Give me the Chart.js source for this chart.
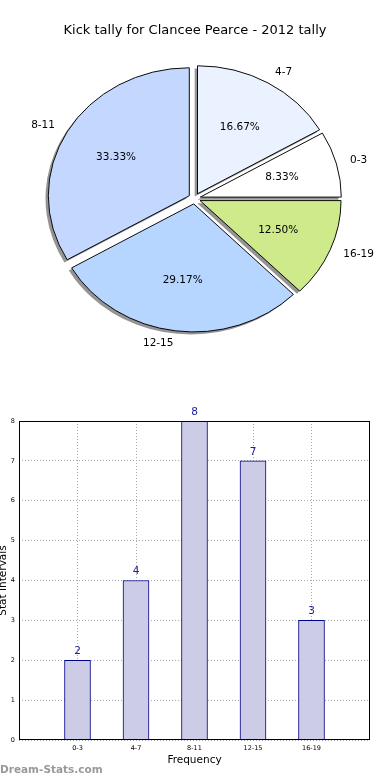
<!DOCTYPE html>
<html>
<head>
<meta charset="utf-8">
<script src="https://cdn.jsdelivr.net/npm/chart.js@4.4.1/dist/chart.umd.min.js"></script>
<style>
  html, body { margin: 0; padding: 0; background: #fff; }
  body { width: 390px; height: 780px; position: relative; overflow: hidden; font-family: "DejaVu Sans", sans-serif; }
  #title { position: absolute; left: 0; top: 21px; width: 390px; text-align: center; font-size: 13px; line-height: 18px; color: #000; }
  #pieBox { position: absolute; left: 0; top: 0; width: 390px; height: 400px; }
  #barBox { position: absolute; left: -6px; top: 400px; width: 396px; height: 380px; }
  #mark { position: absolute; left: 0; top: 763px; font-size: 10.5px; font-weight: bold; color: #999; }
</style>
</head>
<body>
<div id="pieBox"><canvas id="pie" width="390" height="400"></canvas></div>
<div id="title">Kick tally for Clancee Pearce - 2012 tally</div>
<div id="barBox"><canvas id="bar" width="396" height="380"></canvas></div>
<div id="mark">Dream-Stats.com</div>
<script>
// data
const categories = ['0-3', '4-7', '8-11', '12-15', '16-19'];
const counts = [2, 4, 8, 7, 3];
const yMin = 0, yMax = 8;

// looks
const sliceColors = ['#ffffff', '#eaf1ff', '#c4d8ff', '#b6d5ff', '#cfea8b'];
const FONT = '"DejaVu Sans", sans-serif';
const R = 141;            // horizontal radius of the pie
const K = 128 / 141;      // pie is a bit squashed vertically
const EXPLODE = 6;

const total = counts.reduce((a, b) => a + b, 0);

// chart.js goes clockwise, matplotlib went counter-clockwise from east -> reverse
const pieLabels = categories.slice().reverse();
const pieValues = counts.slice().reverse();
const pieColors = sliceColors.slice().reverse();

const center = chart => {
  const a = chart.chartArea;
  return [(a.left + a.right) / 2, (a.top + a.bottom) / 2];
};

const piePlugin = {
  id: 'mplPie',
  afterDatasetsUpdate(chart) {
    const [cx, cy] = center(chart);
    chart.getDatasetMeta(0).data.forEach(arc => {
      const mid = (arc.startAngle + arc.endAngle) / 2;
      arc.x = cx + EXPLODE * Math.cos(mid);
      arc.y = cy + EXPLODE * Math.sin(mid);
    });
  },
  beforeDatasetsDraw(chart) {
    const ctx = chart.ctx;
    const [cx, cy] = center(chart);
    ctx.save();
    ctx.translate(cx, cy);
    ctx.scale(1, K);
    ctx.translate(-cx, -cy);
    // shadows under all wedges
    ctx.save();
    ctx.translate(-2.8, 2.6 / K);
    ctx.fillStyle = 'rgba(60,60,60,0.55)';
    chart.getDatasetMeta(0).data.forEach(arc => {
      ctx.beginPath();
      ctx.moveTo(arc.x, arc.y);
      ctx.arc(arc.x, arc.y, arc.outerRadius, arc.startAngle, arc.endAngle);
      ctx.closePath();
      ctx.fill();
    });
    ctx.restore();
  },
  afterDatasetsDraw(chart) {
    const ctx = chart.ctx;
    ctx.restore();
    const [cx, cy] = center(chart);
    ctx.save();
    ctx.font = '10.5px ' + FONT;
    ctx.fillStyle = '#000';
    ctx.textBaseline = 'middle';
    chart.getDatasetMeta(0).data.forEach((arc, i) => {
      const mid = (arc.startAngle + arc.endAngle) / 2;
      const c = Math.cos(mid), s = Math.sin(mid);
      // category label
      let d = EXPLODE + 1.1 * R;
      ctx.textAlign = c > 0 ? 'left' : 'right';
      ctx.fillText(pieLabels[i], cx + d * c, cy + K * d * s);
      // percent
      d = EXPLODE + 0.6 * R;
      ctx.textAlign = 'center';
      ctx.fillText((pieValues[i] / total * 100).toFixed(2) + '%', cx + d * c, cy + K * d * s);
    });
    ctx.restore();
  }
};

new Chart(document.getElementById('pie'), {
  type: 'pie',
  data: {
    labels: pieLabels,
    datasets: [{
      data: pieValues,
      backgroundColor: pieColors,
      borderColor: '#000',
      borderWidth: 1,
      radius: R
    }]
  },
  options: {
    responsive: false,
    animation: false,
    events: [],
    rotation: 90,
    layout: { padding: { left: 0, right: 1, top: 0, bottom: 3 } },
    plugins: { legend: { display: false }, tooltip: { enabled: false } }
  },
  plugins: [piePlugin]
});

// bar chart
const barPlugin = {
  id: 'barExtras',
  afterDatasetsDraw(chart) {
    const ctx = chart.ctx;
    ctx.save();
    ctx.font = '10.5px ' + FONT;
    ctx.fillStyle = '#1c1c96';
    ctx.textAlign = 'center';
    ctx.textBaseline = 'middle';
    chart.getDatasetMeta(0).data.forEach((bar, i) => {
      ctx.fillText(String(counts[i]), bar.x, bar.y - 9);
    });
    ctx.restore();
  },
  afterDraw(chart) {
    const a = chart.chartArea, ctx = chart.ctx;
    ctx.save();
    ctx.strokeStyle = '#000';
    ctx.lineWidth = 1;
    ctx.strokeRect(Math.round(a.left) + 0.5, Math.round(a.top) + 0.5,
      Math.round(a.right - a.left) - 1, Math.round(a.bottom - a.top) - 1);
    ctx.restore();
  }
};

new Chart(document.getElementById('bar'), {
  type: 'bar',
  data: {
    datasets: [{
      data: counts.map((v, i) => ({ x: i, y: v })),
      backgroundColor: '#ccccE6',
      borderColor: '#00008b',
      borderWidth: 1,
      borderSkipped: 'bottom',
      barThickness: 26
    }]
  },
  options: {
    responsive: false,
    animation: false,
    events: [],
    layout: { padding: { left: 0, right: 20, top: 21, bottom: 10 } },
    plugins: { legend: { display: false }, tooltip: { enabled: false } },
    scales: {
      x: {
        type: 'linear',
        min: -1,
        max: categories.length,
        offset: false,
        z: 1,
        afterFit: s => { s.height = 30; },
        ticks: {
          stepSize: 1,
          autoSkip: false,
          maxRotation: 0,
          padding: 4,
          color: '#000',
          font: { family: FONT, size: 6.5 },
          callback: v => categories[v] !== undefined ? categories[v] : ''
        },
        grid: {
          offset: false,
          drawTicks: false,
          lineWidth: 1,
          color: c => (c.tick && categories[c.tick.value] !== undefined) ? '#aaaaaa' : 'rgba(0,0,0,0)'
        },
        border: { display: false, dash: [1, 2] },
        title: {
          display: true,
          text: 'Frequency',
          color: '#000',
          font: { family: FONT, size: 10.5 },
          padding: { top: 0, bottom: 3 }
        }
      },
      y: {
        min: yMin,
        max: yMax,
        z: 1,
        afterFit: s => { s.width = 25; },
        ticks: {
          stepSize: 1,
          padding: 4,
          color: '#000',
          font: { family: FONT, size: 6.5 }
        },
        grid: { drawTicks: false, lineWidth: 1, color: '#aaaaaa' },
        border: { display: false, dash: [1, 2] },
        title: {
          display: true,
          text: 'Stat Intervals',
          color: '#000',
          font: { family: FONT, size: 10.5 },
          padding: { top: 3, bottom: 0 }
        }
      }
    }
  },
  plugins: [barPlugin]
});
</script>
</body>
</html>
